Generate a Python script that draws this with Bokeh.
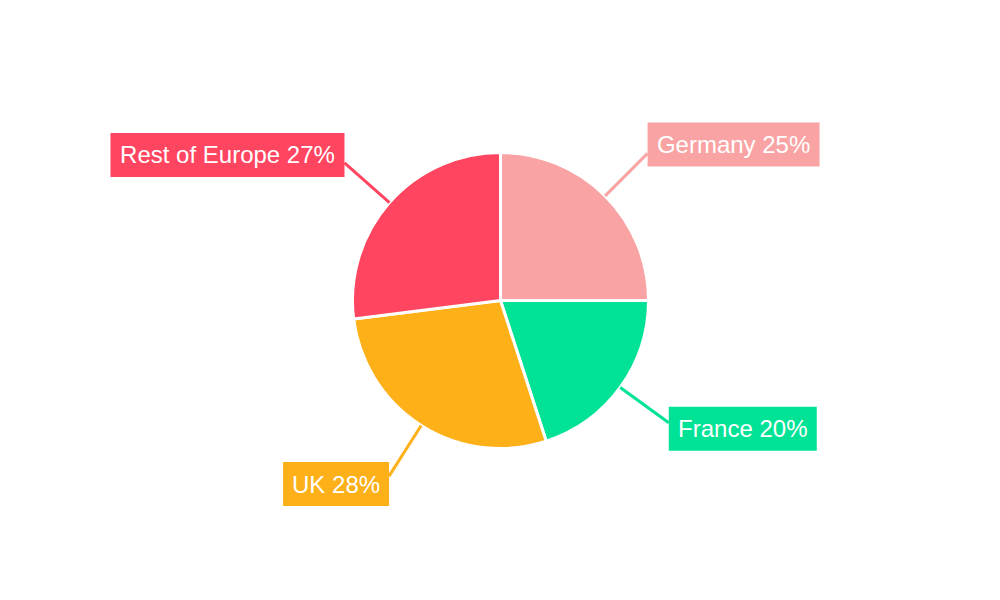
import numpy as np
from bokeh.plotting import figure
from bokeh.models import Range1d, ColumnDataSource
from bokeh.core.properties import value
from bokeh.embed import file_html
from bokeh.resources import INLINE

# ---- data ----
countries = ["Germany", "France", "UK", "Rest of Europe"]
shares = [25, 20, 28, 27]
colors = ["#F9A3A4", "#00E396", "#FEB019", "#FF4560"]

# ---- layout / style ----
W, H = 984, 584
cx, cy = 500, 284          # pie centre (data units = px)
R = 148                    # pie radius
R_OUT = 208                # leader line end radius
box_w = [172, 148, 106, 234]
box_h = 44
box_dy = [9, -6, -8, 8]    # box centre offset (up positive) from leader end

vals = np.array(shares, dtype=float)
frac = vals / vals.sum()
cum_end = np.cumsum(frac)
cum_start = cum_end - frac
start_ang = np.pi / 2 - 2 * np.pi * cum_start
end_ang = np.pi / 2 - 2 * np.pi * cum_end
mid_ang = (start_ang + end_ang) / 2

p = figure(width=W, height=H, x_range=Range1d(0, W), y_range=Range1d(0, H),
           output_backend="svg", toolbar_location=None, min_border=0)
p.axis.visible = False
p.grid.visible = False
p.outline_line_color = None
p.background_fill_color = "white"
p.border_fill_color = "white"

src = ColumnDataSource(dict(start=start_ang, end=end_ang, color=colors))
p.wedge(x=cx, y=cy, radius=R, start_angle="start", end_angle="end",
        direction="clock", fill_color="color", line_color="white",
        line_width=3, source=src)

x0 = cx + R * np.cos(mid_ang)
y0 = cy + R * np.sin(mid_ang)
x1 = cx + R_OUT * np.cos(mid_ang)
y1 = cy + R_OUT * np.sin(mid_ang)
p.segment(x0=x0, y0=y0, x1=x1, y1=y1, line_color=colors, line_width=3)

right_side = np.cos(mid_ang) > 0
bw = np.array(box_w, dtype=float)
left = np.where(right_side, x1, x1 - bw)
right = left + bw
ymid = y1 + np.array(box_dy, dtype=float)
p.quad(left=left, right=right, bottom=ymid - box_h / 2, top=ymid + box_h / 2,
       fill_color=colors, line_color=None)

labels = [f"{c} {s}%" for c, s in zip(countries, shares)]
p.text(x=(left + right) / 2, y=ymid, text=labels, text_align="center",
       text_baseline="middle", text_color="white", text_font_size="24px",
       text_font=value("Liberation Sans"))

open("out.html", "w").write(file_html(p, INLINE))
